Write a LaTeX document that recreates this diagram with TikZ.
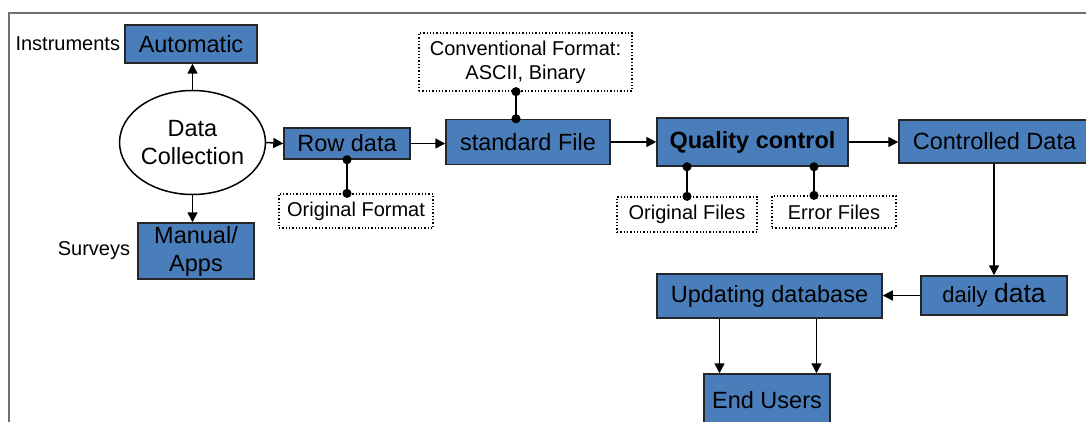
\documentclass[tikz,border=0pt]{standalone}
\usepackage{fontspec}
\setmainfont{Liberation Sans}
\usetikzlibrary{positioning,shapes.geometric,arrows.meta,calc}
\definecolor{boxblue}{HTML}{4A7EBB}
\definecolor{framegray}{HTML}{707070}
\tikzset{
  blok/.style={rectangle, draw=black!85, fill=boxblue, line width=1.5pt, inner sep=0pt, font=\fontsize{23.5}{28}\selectfont, align=center},
  note/.style={rectangle, draw=black, dotted, line width=1.3pt, inner sep=0pt, font=\fontsize{20}{24}\selectfont, align=center},
  lbl/.style={inner sep=0pt, font=\fontsize{20}{24}\selectfont},
  collect/.style={ellipse, draw=black, line width=1.5pt, minimum width=121pt, minimum height=104pt, inner sep=0pt, font=\fontsize{23.5}{28}\selectfont, align=center},
  line/.style={draw, line width=1.5pt, -{Triangle[length=10pt,width=10pt]}},
  pin/.style={draw, line width=1.5pt, {Circle[length=9pt]}-{Circle[length=9pt]}, shorten <=-4.5pt, shorten >=-4.5pt},
}
\begin{document}
\begin{tikzpicture}[x=1pt,y=-1pt]
  \useasboundingbox (0,0) rectangle (1086,422);
  \draw[framegray, line width=1.6pt] (9,422) -- (9,13) -- (1090,13);

  \node[collect] (dc) at (192.5,142.5) {Data\\Collection};
  \node[blok, minimum width=132pt, minimum height=38pt] (auto) at (191,44) {Automatic};
  \node[blok, minimum width=116pt, minimum height=56pt] (manual) at (196,251) {Manual/\\Apps};
  \node[lbl, left=4pt of auto] (instr) {Instruments};
  \node[lbl, left=7pt of manual] (surv) {Surveys};

  \node[blok, minimum width=126pt, minimum height=31pt] (row) at (347,143.5) {Row data};
  \node[note, minimum width=154pt, minimum height=34pt] (orig) at (356,211) {Original Format};
  \node[blok, minimum width=164pt, minimum height=45pt] (std) at (528,142) {standard File};
  \node[note, minimum width=213pt, minimum height=58pt] (conv) at (525.5,62) {Conventional Format:\\ASCII, Binary};
  \node[blok, minimum width=191pt, minimum height=48pt] (qc) at (752.5,142) {\bfseries Quality control};
  \node[note, minimum width=140pt, minimum height=35pt] (ofiles) at (687,214.5) {Original Files};
  \node[note, minimum width=124pt, minimum height=32pt] (efiles) at (834,212) {Error Files};
  \node[blok, minimum width=191pt, minimum height=43pt] (ctrl) at (994.5,141.5) {Controlled Data};
  \node[blok, minimum width=146pt, minimum height=39pt] (daily) at (994,295.5) {{\fontsize{22}{26}\selectfont daily} {\fontsize{26.5}{30}\selectfont data}};
  \node[blok, minimum width=225pt, minimum height=44pt] (upd) at (769.5,296) {Updating database};
  \node[blok, minimum width=126pt, minimum height=52pt] (eu) at (767,400) {End Users};

  \path[line] (dc.north) -- (dc.north |- auto.south);
  \path[line] (dc.south) -- (dc.south |- manual.north);
  \path[line] (dc.east) -- (row.west);
  \path[line] (row.east) -- (row.east -| std.west);
  \path[line] (std.east) -- (qc.west);
  \path[line] (qc.east) -- (qc.east -| ctrl.west);
  \path[line] (ctrl.south -| daily.north) -- (daily.north);
  \path[line] (daily.west) -- (daily.west -| upd.east);
  \path[line] ([xshift=-50pt]upd.south) -- ([xshift=-50pt]upd.south |- eu.north);
  \path[line] ([xshift=47pt]upd.south) -- ([xshift=47pt]upd.south |- eu.north);

  \path[pin] (row.south) -- (row.south |- orig.north);
  \path[pin] ([xshift=-12pt]std.north) -- ([xshift=-12pt]std.north |- conv.south);
  \path[pin] (qc.south -| ofiles.north) -- (ofiles.north);
  \path[pin] ([xshift=-20pt]efiles.north |- qc.south) -- ([xshift=-20pt]efiles.north);
\end{tikzpicture}
\end{document}
